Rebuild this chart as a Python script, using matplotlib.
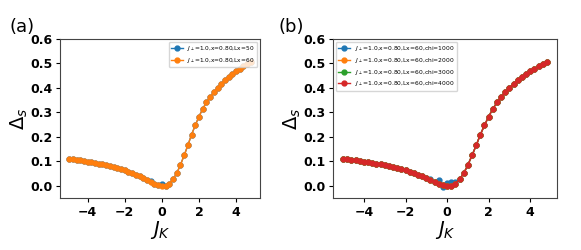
import matplotlib
matplotlib.use("Agg")
import matplotlib.pyplot as plt
import numpy as np

jk = [-5.0, -4.8, -4.6, -4.4, -4.2, -4.0, -3.8, -3.6, -3.4, -3.2,
      -3.0, -2.8, -2.6, -2.4, -2.2, -2.0, -1.8, -1.6, -1.4, -1.2,
      -1.0, -0.8, -0.6, -0.4, -0.2, 0.0, 0.2, 0.4, 0.6, 0.8,
      1.0, 1.2, 1.4, 1.6, 1.8, 2.0, 2.2, 2.4, 2.6, 2.8,
      3.0, 3.2, 3.4, 3.6, 3.8, 4.0, 4.2, 4.4, 4.6, 4.8]

gap_main = [0.110, 0.108, 0.106, 0.104, 0.101, 0.099, 0.096, 0.094, 0.091, 0.088,
            0.085, 0.081, 0.077, 0.073, 0.068, 0.063, 0.057, 0.051, 0.045, 0.038,
            0.031, 0.024, 0.016, 0.008, 0.002, 0.000, 0.001, 0.009, 0.027, 0.051,
            0.085, 0.124, 0.165, 0.209, 0.247, 0.283, 0.314, 0.341, 0.363, 0.383,
            0.401, 0.417, 0.434, 0.446, 0.458, 0.468, 0.479, 0.488, 0.496, 0.504]

# panel (a): Lx=50 differs slightly near the minimum
gap_lx50 = list(gap_main)
gap_lx50[22] = 0.018
gap_lx50[25] = 0.006

# panel (b): chi=1000 differs near the minimum
gap_chi1000 = list(gap_main)
gap_chi1000[21] = 0.029
gap_chi1000[23] = 0.023
gap_chi1000[24] = -0.003
gap_chi1000[25] = 0.010
gap_chi1000[26] = 0.014
gap_chi1000[27] = 0.014

labels_a = [r"$J_\perp$=1.0,x=0.80,Lx=50", r"$J_\perp$=1.0,x=0.80,Lx=60"]
labels_b = [r"$J_\perp$=1.0,x=0.80,Lx=60,chi=1000",
            r"$J_\perp$=1.0,x=0.80,Lx=60,chi=2000",
            r"$J_\perp$=1.0,x=0.80,Lx=60,chi=3000",
            r"$J_\perp$=1.0,x=0.80,Lx=60,chi=4000"]

W, H = 581, 250
fig = plt.figure(figsize=(W / 100, H / 100), dpi=100)

axa = fig.add_axes([60 / W, 52 / H, 200 / W, 159 / H])
axb = fig.add_axes([333 / W, 52 / H, 224 / W, 159 / H])

mk = dict(marker="o", markersize=3.5, linewidth=1.0)

axa.plot(jk, gap_lx50, color="C0", label=labels_a[0], **mk)
axa.plot(jk, gap_main, color="C1", label=labels_a[1], **mk)

axb.plot(jk, gap_chi1000, color="C0", label=labels_b[0], **mk)
axb.plot(jk, gap_main, color="C1", label=labels_b[1], **mk)
axb.plot(jk, gap_main, color="C2", label=labels_b[2], **mk)
axb.plot(jk, gap_main, color="C3", label=labels_b[3], **mk)

for ax in (axa, axb):
    ax.set_ylim(-0.05, 0.6)
    ax.set_xticks([-4, -2, 0, 2, 4])
    ax.set_yticks([0.0, 0.1, 0.2, 0.3, 0.4, 0.5, 0.6])
    ax.set_yticklabels(["0.0", "0.1", "0.2", "0.3", "0.4", "0.5", "0.6"])
    ax.tick_params(labelsize=9, length=3, width=0.8, pad=2.5)
    for lab in ax.get_xticklabels() + ax.get_yticklabels():
        lab.set_fontweight("bold")
    ax.set_xlabel(r"$J_K$", fontsize=14, labelpad=0)
    ax.set_ylabel(r"$\Delta_s$", fontsize=14, labelpad=0)
    for s in ax.spines.values():
        s.set_linewidth(0.8)
        s.set_color("#444444")

axa.legend(loc="upper right", fontsize=4.2, handlelength=2, borderpad=0.4,
           labelspacing=0.45, framealpha=0.8)
axb.legend(loc="upper left", fontsize=4.3, handlelength=2, borderpad=0.4,
           labelspacing=0.45, framealpha=0.8)

fig.text(10 / W, 1 - 32 / H, "(a)", fontsize=13)
fig.text(279 / W, 1 - 32 / H, "(b)", fontsize=13)

fig.savefig("out.png", dpi=100)
